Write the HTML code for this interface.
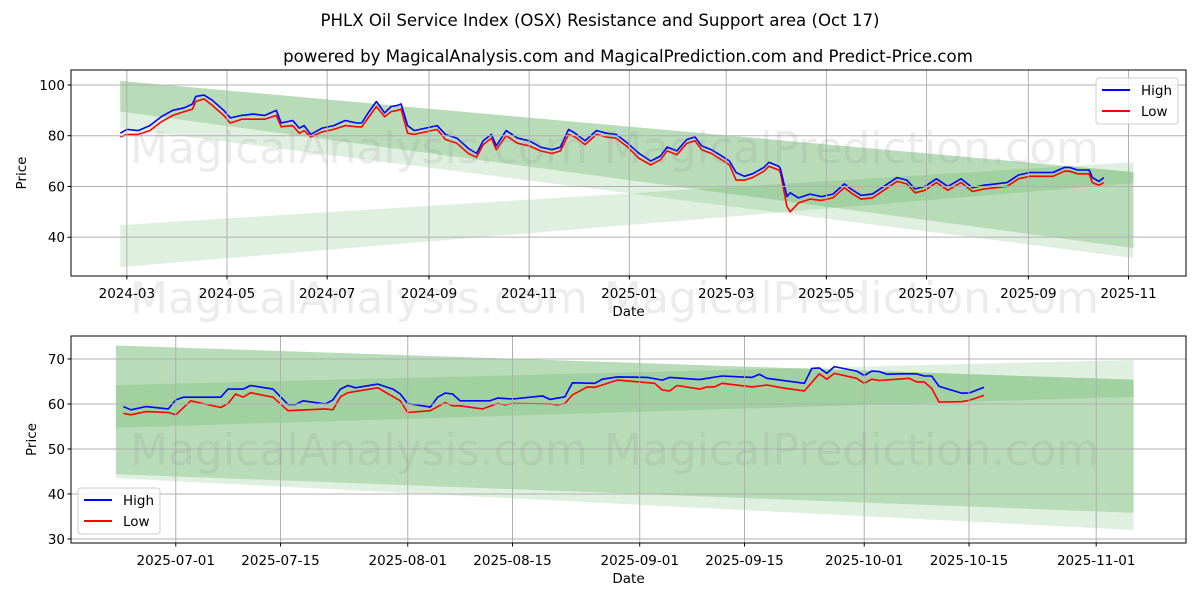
<!DOCTYPE html>
<html><head><meta charset="utf-8">
<style>
html,body{margin:0;padding:0;background:#fff;}
svg{display:block;font-family:"DejaVu Sans","Liberation Sans",sans-serif;}
</style></head>
<body>
<svg id="fig" width="1200" height="600" viewBox="0 0 1200 600" xmlns="http://www.w3.org/2000/svg">
<rect width="1200" height="600" fill="#fff"/>
<text x="600" y="26" text-anchor="middle" font-size="16.6" fill="#000">PHLX Oil Service Index (OSX) Resistance and Support area (Oct 17)</text>
<text x="628" y="62" text-anchor="middle" font-size="16.6" fill="#000">powered by MagicalAnalysis.com and MagicalPrediction.com and Predict-Price.com</text>
<g id="top"></g>
<g id="bottom"></g>
</svg>
<script>
// ---------- Top chart data ----------
const topDates = ["2024-02-26","2024-03-01","2024-03-08","2024-03-15","2024-03-22","2024-03-29","2024-04-05","2024-04-10","2024-04-12","2024-04-17","2024-04-22","2024-04-29","2024-05-03","2024-05-10","2024-05-17","2024-05-24","2024-05-31","2024-06-03","2024-06-10","2024-06-14","2024-06-17","2024-06-21","2024-06-28","2024-07-05","2024-07-12","2024-07-19","2024-07-22","2024-07-26","2024-07-31","2024-08-05","2024-08-09","2024-08-13","2024-08-15","2024-08-19","2024-08-23","2024-08-30","2024-09-06","2024-09-11","2024-09-18","2024-09-25","2024-09-30","2024-10-04","2024-10-09","2024-10-12","2024-10-18","2024-10-25","2024-11-01","2024-11-08","2024-11-15","2024-11-20","2024-11-25","2024-11-29","2024-12-05","2024-12-12","2024-12-18","2024-12-24","2024-12-31","2025-01-07","2025-01-14","2025-01-20","2025-01-24","2025-01-30","2025-02-05","2025-02-10","2025-02-14","2025-02-20","2025-02-25","2025-03-03","2025-03-07","2025-03-12","2025-03-17","2025-03-24","2025-03-27","2025-04-02","2025-04-03","2025-04-07","2025-04-09","2025-04-14","2025-04-21","2025-04-28","2025-05-05","2025-05-12","2025-05-16","2025-05-22","2025-05-29","2025-06-05","2025-06-13","2025-06-19","2025-06-24","2025-06-30","2025-07-07","2025-07-14","2025-07-22","2025-07-29","2025-08-05","2025-08-12","2025-08-19","2025-08-26","2025-09-02","2025-09-09","2025-09-16","2025-09-23","2025-09-26","2025-10-01","2025-10-08","2025-10-10","2025-10-14","2025-10-17"];
const topHigh = [81,82.5,82,84,87.5,90,91,92.5,95.5,96,94,90,87,88,88.5,88,90,85,86,83,84,80.5,83,84,86,85,85,89,93.5,89,91.5,92,92.5,84,82,83,84,80.5,79,75,73,78,80.5,76,82,79,78,75.5,74.5,75.5,82.5,81,78,82,81,80.5,77,73,70,72,75.5,74,78.5,79.5,76,74.5,72.5,70,65.5,64,65,67.5,69.5,68,67,56,57.5,55.5,57,56,57,61,59,56.5,57,60,63.5,62.5,59,60,63,60,63,59.5,60.5,61,61.5,64.5,65.5,65.5,65.5,67.5,67.5,66.5,66.5,63.5,62,63.5];
const topLow = [79.5,80.5,80.5,82,85.5,88,89.5,90.5,93.5,94.5,92,88,85,86.5,86.5,86.5,88,83.5,84,81,82,79.5,81.5,82.5,84,83.5,83.5,87,91.5,87.5,89.5,90,90.5,81,80.5,81.5,82.5,78.5,77,73,71.5,76.5,79,74.5,80,77,76,74,73,74,80.5,79.5,76.5,80.5,79.5,79,75.5,71,68.5,70.5,74,72.5,77,78,74.5,73,71,68.5,62.5,62.5,63.5,66,68,66.5,65.5,52,50,53.5,55,54.5,55.5,59.5,57.5,55,55.5,58.5,62,61,57.5,58.5,61.5,58.5,61.5,58,59,59.5,60,63,64,64,64,66,66,65,65,61.5,60.5,61.5];
const topBandDates = ["2024-02-26","2025-11-04"];
const topResTop = [101.6,65.7];
const topResBot = [89.5,35.7];
const topRes2Bot = [83,31.8];
const topSupTop = [44.8,69.6];
const topSupBot = [28.2,61.3];
const topYTicks = [40,60,80,100];
const topXTicks = ["2024-03-01","2024-05-01","2024-07-01","2024-09-01","2024-11-01","2025-01-01","2025-03-01","2025-05-01","2025-07-01","2025-09-01","2025-11-01"];
const topXLabels = ["2024-03","2024-05","2024-07","2024-09","2024-11","2025-01","2025-03","2025-05","2025-07","2025-09","2025-11"];

// ---------- Bottom chart data ----------
const botHighDates = ["2025-06-24","2025-06-25","2025-06-27","2025-06-30","2025-07-01","2025-07-02","2025-07-07","2025-07-08","2025-07-10","2025-07-11","2025-07-14","2025-07-16","2025-07-17","2025-07-18","2025-07-21","2025-07-22","2025-07-23","2025-07-24","2025-07-25","2025-07-28","2025-07-30","2025-07-31","2025-08-01","2025-08-04","2025-08-05","2025-08-06","2025-08-07","2025-08-08","2025-08-12","2025-08-13","2025-08-15","2025-08-19","2025-08-20","2025-08-22","2025-08-23","2025-08-26","2025-08-27","2025-08-29","2025-09-02","2025-09-04","2025-09-05","2025-09-09","2025-09-10","2025-09-12","2025-09-16","2025-09-17","2025-09-18","2025-09-23","2025-09-24","2025-09-25","2025-09-26","2025-09-27","2025-09-30","2025-10-01","2025-10-02","2025-10-03","2025-10-04","2025-10-06","2025-10-08","2025-10-09","2025-10-10","2025-10-11","2025-10-14","2025-10-15","2025-10-17"];
const botHigh = [59.4,58.7,59.4,58.9,60.9,61.5,61.5,63.3,63.3,64.1,63.3,59.9,59.9,60.7,60.0,60.9,63.3,64.1,63.6,64.4,63.3,62.2,60.1,59.3,61.5,62.4,62.2,60.7,60.7,61.3,61.1,61.8,61.0,61.6,64.7,64.6,65.5,66.0,65.9,65.3,65.9,65.4,65.7,66.2,65.9,66.6,65.7,64.6,67.9,68.0,66.8,68.3,67.3,66.3,67.3,67.2,66.6,66.7,66.7,66.2,66.2,63.9,62.4,62.4,63.7];
const botLowDates = ["2025-06-24","2025-06-25","2025-06-27","2025-06-30","2025-07-01","2025-07-03","2025-07-07","2025-07-08","2025-07-09","2025-07-10","2025-07-11","2025-07-14","2025-07-16","2025-07-21","2025-07-22","2025-07-23","2025-07-24","2025-07-28","2025-07-31","2025-08-01","2025-08-04","2025-08-06","2025-08-07","2025-08-08","2025-08-11","2025-08-13","2025-08-14","2025-08-15","2025-08-20","2025-08-21","2025-08-22","2025-08-23","2025-08-25","2025-08-26","2025-08-27","2025-08-29","2025-09-03","2025-09-04","2025-09-05","2025-09-06","2025-09-09","2025-09-10","2025-09-11","2025-09-12","2025-09-16","2025-09-18","2025-09-20","2025-09-23","2025-09-25","2025-09-26","2025-09-27","2025-09-30","2025-10-01","2025-10-02","2025-10-03","2025-10-07","2025-10-08","2025-10-09","2025-10-10","2025-10-11","2025-10-14","2025-10-15","2025-10-17"];
const botLow = [57.9,57.6,58.3,58.1,57.6,60.7,59.2,60.1,62.2,61.5,62.5,61.5,58.5,58.9,58.7,61.6,62.5,63.6,60.7,58.1,58.5,60.3,59.6,59.6,58.9,60.1,59.8,60.1,60.0,59.8,60.1,62.0,63.8,63.7,64.2,65.3,64.6,63.1,62.9,64.1,63.3,63.8,63.8,64.6,63.8,64.2,63.6,62.9,66.7,65.5,66.8,65.7,64.6,65.5,65.2,65.7,64.9,64.9,63.5,60.4,60.5,60.8,61.9];
const botBandDates = ["2025-06-23","2025-11-06"];
const botResTop = [73,65.4];
const botResBot = [44.4,35.8];
const botRes2Bot = [43.5,32];
const botSupTop = [64.2,69.8];
const botSupBot = [54.7,61.6];
const botYTicks = [30,40,50,60,70];
const botXTicks = ["2025-07-01","2025-07-15","2025-08-01","2025-08-15","2025-09-01","2025-09-15","2025-10-01","2025-10-15","2025-11-01"];
const botXLabels = ["2025-07-01","2025-07-15","2025-08-01","2025-08-15","2025-09-01","2025-09-15","2025-10-01","2025-10-15","2025-11-01"];

const NS = "http://www.w3.org/2000/svg";
function day(s){ return Date.UTC(+s.slice(0,4), +s.slice(5,7)-1, +s.slice(8,10))/86400000; }
function el(tag, attrs, parent){ const e=document.createElementNS(NS,tag); for(const k in attrs) e.setAttribute(k, attrs[k]); parent.appendChild(e); return e; }

function drawChart(g, c){
  const sx = d => c.px0 + (day(d)-day(c.t0))/(day(c.t1)-day(c.t0))*(c.px1-c.px0);
  const sy = v => c.py1 - (v-c.vmin)/(c.vmax-c.vmin)*(c.py1-c.py0);
  const clipId = "clip-"+c.id;
  const defs = el("defs",{},g);
  const cp = el("clipPath",{id:clipId},defs);
  el("rect",{x:c.px0,y:c.py0,width:c.px1-c.px0,height:c.py1-c.py0},cp);
  const plot = el("g",{"clip-path":"url(#"+clipId+")"},g);
  function band(top, bot, op, name){
    const xa=sx(c.bandDates[0]), xb=sx(c.bandDates[1]);
    const p = el("polygon",{points:`${xa},${sy(top[0])} ${xb},${sy(top[1])} ${xb},${sy(bot[1])} ${xa},${sy(bot[0])}`, fill:"#008000", "fill-opacity":op},plot);
    
    
  }
  band(c.resTop, c.resBot, 0.28, "resistance-band");
  band(c.resBot, c.res2Bot, 0.12, "resistance-outer-band");
  band(c.supTop, c.supBot, 0.12, "support-band");
  c.yTicks.forEach(v=>{
    const l = el("line",{x1:c.px0,x2:c.px1,y1:sy(v),y2:sy(v),stroke:"#b0b0b0","stroke-width":1},g);
    
    
  });
  c.xTicks.forEach(d=>{
    const l = el("line",{x1:sx(d),x2:sx(d),y1:c.py0,y2:c.py1,stroke:"#b0b0b0","stroke-width":1},g);
    
    
  });
  c.wm.forEach(w=>{
    const t = el("text",{x:w[0],y:w[1],"font-size":44,fill:"#888","fill-opacity":0.16},g);
    t.textContent = w[2];
    
    
  });
  function line(dates, vals, color, name){
    const pts = dates.map((d,i)=>sx(d).toFixed(1)+","+sy(vals[i]).toFixed(1)).join(" ");
    const p = el("polyline",{points:pts,fill:"none",stroke:color,"stroke-width":1.6,"stroke-linejoin":"round"},plot);
    
    
  }
  line(c.lowDates, c.low, "#ff0000", "low-line");
  line(c.highDates, c.high, "#0000ff", "high-line");
  const fr = el("rect",{x:c.px0,y:c.py0,width:c.px1-c.px0,height:c.py1-c.py0,fill:"none",stroke:"#000","stroke-width":1},g);
  
  
  c.yTicks.forEach(v=>{
    el("line",{x1:c.px0-3.5,x2:c.px0,y1:sy(v),y2:sy(v),stroke:"#000"},g);
    const t = el("text",{x:c.px0-6,y:sy(v)+5,"text-anchor":"end","font-size":13.5},g);
    t.textContent = v;
    
    
  });
  c.xTicks.forEach((d,i)=>{
    el("line",{x1:sx(d),x2:sx(d),y1:c.py1,y2:c.py1+3.5,stroke:"#000"},g);
    const t = el("text",{x:sx(d),y:c.py1+22,"text-anchor":"middle","font-size":13.5},g);
    t.textContent = c.xLabels[i];
    
    
  });
  const xl = el("text",{x:(c.px0+c.px1)/2,y:c.py1+40,"text-anchor":"middle","font-size":13.5},g);
  xl.textContent = "Date";
  
  
  const yx = c.yTitleX, yy=(c.py0+c.py1)/2;
  const yl = el("text",{x:yx,y:yy,"text-anchor":"middle","font-size":13.5,transform:`rotate(-90 ${yx} ${yy})`},g);
  yl.textContent = "Price";
  
  
  const lg = el("g",{},g);
  
  
  const [lx,ly] = c.legend;
  el("rect",{x:lx,y:ly,width:82,height:46,rx:3,fill:"#fff","fill-opacity":0.8,stroke:"#ccc"},lg);
  [["High","#0000ff"],["Low","#ff0000"]].forEach((e,i)=>{
    const yy2 = ly+12+i*21;
    el("line",{x1:lx+6,x2:lx+34,y1:yy2,y2:yy2,stroke:e[1],"stroke-width":2},lg);
    const t = el("text",{x:lx+45,y:yy2+5,"font-size":13.5},lg);
    t.textContent = e[0];
    
    
  });
}

drawChart(document.getElementById("top"), {
  id:"top", px0:71, px1:1186, py0:70, py1:276,
  t0:"2024-01-27", t1:"2025-12-06", vmin:24.7, vmax:105.9,
  bandDates:topBandDates, resTop:topResTop, resBot:topResBot, res2Bot:topRes2Bot, supTop:topSupTop, supBot:topSupBot,
  yTicks:topYTicks, xTicks:topXTicks, xLabels:topXLabels,
  highDates:topDates, high:topHigh, lowDates:topDates, low:topLow,
  yTitleX:26, legend:[1096,78],
  wm:[[130,163,"MagicalAnalysis.com"],[604,163,"MagicalPrediction.com"],[130,313,"MagicalAnalysis.com"],[604,313,"MagicalPrediction.com"]]
});
drawChart(document.getElementById("bottom"), {
  id:"bot", px0:71, px1:1186, py0:336, py1:543,
  t0:"2025-06-17", t1:"2025-11-13", vmin:29.1, vmax:75.1,
  bandDates:botBandDates, resTop:botResTop, resBot:botResBot, res2Bot:botRes2Bot, supTop:botSupTop, supBot:botSupBot,
  yTicks:botYTicks, xTicks:botXTicks, xLabels:botXLabels,
  highDates:botHighDates, high:botHigh, lowDates:botLowDates, low:botLow,
  yTitleX:36, legend:[78,488],
  wm:[[130,465,"MagicalAnalysis.com"],[604,465,"MagicalPrediction.com"]]
});
</script>
</body></html>
